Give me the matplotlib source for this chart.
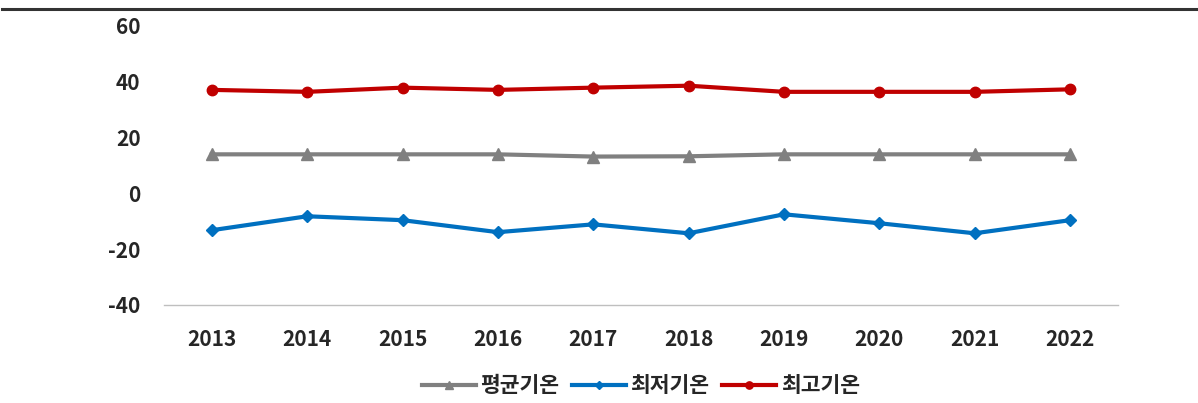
import matplotlib
matplotlib.use("Agg")
import matplotlib.pyplot as plt
from matplotlib.lines import Line2D

plt.rcParams['font.family'] = ['Noto Sans CJK KR', 'DejaVu Sans']

years = ['2013', '2014', '2015', '2016', '2017', '2018', '2019', '2020', '2021', '2022']
avg_temp = [14.0, 14.0, 14.0, 14.0, 13.2, 13.3, 14.0, 14.0, 14.0, 14.0]
min_temp = [-13.2, -8.2, -9.6, -13.9, -11.1, -14.3, -7.5, -10.7, -14.3, -9.6]
max_temp = [37.1, 36.4, 37.9, 37.1, 37.9, 38.6, 36.4, 36.4, 36.4, 37.3]
series_names = ['평균기온', '최저기온', '최고기온']
yticks = [-40, -20, 0, 20, 40, 60]

fig = plt.figure(figsize=(11.98, 4.03), dpi=100)
ax = fig.add_axes([0.137, 0.2432, 0.796, 0.6923])

x = list(range(len(years)))
ax.plot(x, avg_temp, color='#808080', lw=3, marker='^', ms=8, label=series_names[0])
ax.plot(x, min_temp, color='#0070C0', lw=3, marker='D', ms=6.5, label=series_names[1])
ax.plot(x, max_temp, color='#C00000', lw=3, marker='o', ms=7.5, label=series_names[2])

ax.set_xlim(-0.5, len(years) - 0.5)
ax.set_ylim(-40, 60)
ax.set_yticks(yticks)
ax.set_yticklabels([str(v) for v in yticks])
ax.set_xticks(x)
ax.set_xticklabels(years)
for s in ['top', 'right', 'left']:
    ax.spines[s].set_visible(False)
ax.spines['bottom'].set_color('#BFBFBF')
ax.spines['bottom'].set_linewidth(1)
ax.tick_params(axis='both', length=0, labelsize=15, colors='#262626')
ax.tick_params(axis='x', pad=17)
ax.tick_params(axis='y', pad=17)
for lab in ax.get_xticklabels() + ax.get_yticklabels():
    lab.set_fontweight('bold')

leg = ax.legend(loc='center', bbox_to_anchor=(0.5, -0.29), ncol=3, frameon=False,
                prop={'size': 15.5, 'weight': 'bold'}, handlelength=2.5, handletextpad=0.2,
                columnspacing=0.6, markerscale=0.7, borderpad=0)
for t in leg.get_texts():
    t.set_color('#262626')

fig.add_artist(Line2D([0.002, 1.0], [1 - 9 / 403, 1 - 9 / 403], color='#333333', lw=2.2,
                      transform=fig.transFigure))

fig.savefig('out.png', dpi=100)
